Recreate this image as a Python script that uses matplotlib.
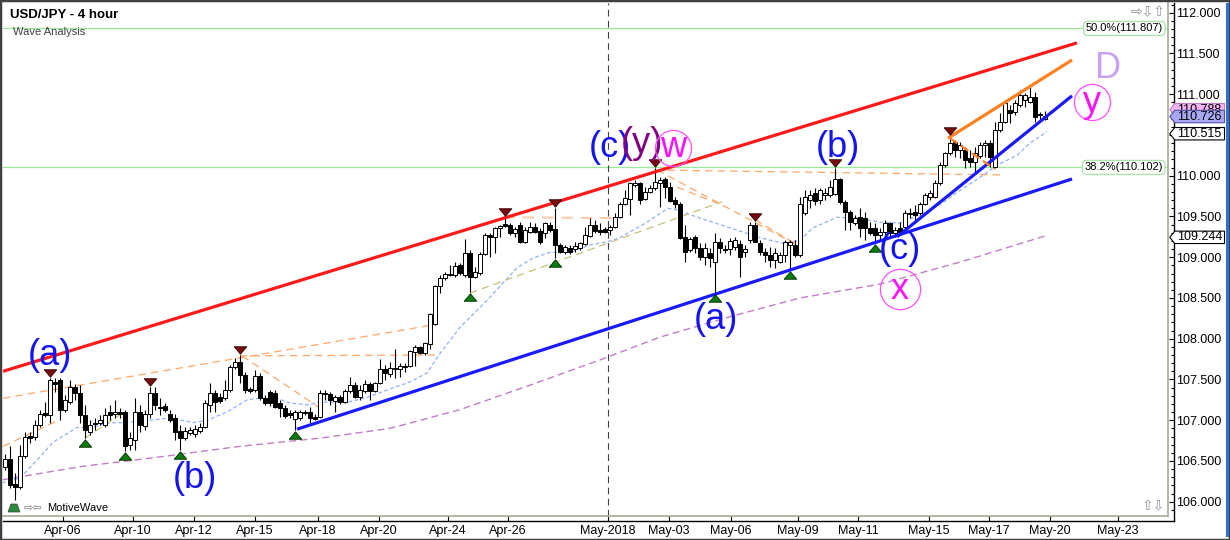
import matplotlib
matplotlib.use("Agg")
import matplotlib.pyplot as plt
import matplotlib.transforms as mtransforms
from matplotlib.patches import Polygon, Rectangle
from matplotlib.lines import Line2D
from matplotlib.path import Path
import numpy as np

plt.rcParams['font.family'] = ['Liberation Sans', 'DejaVu Sans']

# USD/JPY 4 hour candles (one bar per step)
opens = [106.43, 106.52, 106.22, 106.18, 106.56, 106.81, 106.80, 106.94, 107.09, 107.06,
         107.47, 107.49, 107.13, 107.22, 107.41, 107.33, 107.06, 106.86, 106.95, 106.97,
         106.94, 107.10, 107.08, 107.10, 107.10, 106.70, 106.76, 107.10, 106.93, 107.08,
         107.33, 107.16, 107.17, 107.08, 107.03, 106.87, 106.78, 106.84, 106.83, 106.87,
         106.92, 107.19, 107.33, 107.29, 107.27, 107.37, 107.65, 107.71, 107.56, 107.38,
         107.37, 107.54, 107.27, 107.35, 107.33, 107.21, 107.15, 107.09, 107.02, 107.03,
         107.09, 107.10, 107.04, 107.04, 107.32, 107.32, 107.24, 107.29, 107.22, 107.36,
         107.43, 107.29, 107.36, 107.44, 107.36, 107.46, 107.63, 107.57, 107.64, 107.63,
         107.65, 107.66, 107.84, 107.90, 107.82, 107.93, 108.18, 108.65, 108.75, 108.78,
         108.78, 108.91, 108.78, 109.05, 108.76, 108.81, 109.04, 109.27, 109.25, 109.36,
         109.41, 109.40, 109.30, 109.40, 109.19, 109.31, 109.37, 109.32, 109.30, 109.40,
         109.35, 109.15, 109.06, 109.11, 109.10, 109.11, 109.16, 109.26, 109.40, 109.33,
         109.35, 109.33, 109.37, 109.49, 109.65, 109.71, 109.89, 109.91, 109.71, 109.80,
         109.85, 109.91, 109.96, 109.86, 109.70, 109.65, 109.25, 109.09, 109.25, 109.11,
         109.00, 109.05, 108.94, 109.19, 109.10, 109.10, 109.13, 109.16, 109.06, 109.21,
         109.40, 109.17, 109.06, 109.03, 108.97, 108.94, 109.03, 109.15, 109.15, 109.03,
         109.54, 109.70, 109.79, 109.70, 109.76, 109.76, 109.78, 109.96, 109.68, 109.55,
         109.42, 109.49, 109.48, 109.36, 109.36, 109.27, 109.31, 109.42, 109.30, 109.36,
         109.37, 109.53, 109.55, 109.54, 109.65, 109.74, 109.74, 109.91, 110.13, 110.28,
         110.41, 110.32, 110.32, 110.22, 110.17, 110.24, 110.38, 110.40, 110.11, 110.56,
         110.66, 110.81, 110.78, 110.87, 110.93, 110.90, 110.97, 110.76, 110.70]
highs = [106.59, 106.68, 106.35, 106.70, 106.86, 106.86, 107.00, 107.13, 107.22, 107.52,
         107.52, 107.52, 107.31, 107.49, 107.44, 107.43, 107.19, 107.00, 107.03, 107.06,
         107.15, 107.19, 107.25, 107.15, 107.13, 106.86, 107.27, 107.19, 107.13, 107.41,
         107.41, 107.27, 107.21, 107.13, 107.08, 106.94, 106.92, 106.92, 106.94, 106.97,
         107.25, 107.46, 107.37, 107.33, 107.49, 107.68, 107.76, 107.80, 107.59, 107.41,
         107.62, 107.58, 107.31, 107.37, 107.37, 107.25, 107.19, 107.13, 107.13, 107.13,
         107.13, 107.16, 107.08, 107.37, 107.37, 107.35, 107.31, 107.31, 107.38, 107.53,
         107.47, 107.43, 107.49, 107.47, 107.47, 107.75, 107.68, 107.71, 107.87, 107.70,
         107.70, 107.86, 107.92, 107.91, 107.96, 108.32, 108.66, 108.78, 108.82, 108.91,
         108.94, 108.93, 109.22, 109.09, 108.88, 109.06, 109.30, 109.30, 109.37, 109.40,
         109.49, 109.42, 109.37, 109.43, 109.37, 109.43, 109.42, 109.36, 109.43, 109.43,
         109.60, 109.17, 109.15, 109.15, 109.19, 109.19, 109.37, 109.48, 109.46, 109.42,
         109.37, 109.40, 109.54, 109.68, 109.82, 109.92, 109.95, 109.92, 109.86, 109.89,
         110.09, 109.98, 109.99, 109.92, 109.74, 109.68, 109.40, 109.25, 109.27, 109.17,
         109.17, 109.11, 109.30, 109.24, 109.15, 109.24, 109.25, 109.21, 109.15, 109.43,
         109.43, 109.21, 109.11, 109.13, 109.11, 109.06, 109.21, 109.21, 109.21, 109.74,
         109.82, 109.82, 109.85, 109.85, 109.85, 109.95, 110.09, 109.97, 109.70, 109.58,
         109.52, 109.60, 109.55, 109.43, 109.42, 109.36, 109.46, 109.43, 109.37, 109.43,
         109.58, 109.60, 109.64, 109.68, 109.79, 109.82, 109.95, 110.17, 110.29, 110.49,
         110.44, 110.41, 110.35, 110.32, 110.35, 110.41, 110.44, 110.44, 110.66, 110.77,
         110.90, 110.87, 110.93, 111.05, 111.01, 111.09, 111.03, 110.78, 110.79]
lows = [106.39, 106.17, 106.02, 106.16, 106.54, 106.72, 106.76, 106.92, 107.04, 106.97,
        107.35, 107.00, 107.10, 107.20, 107.25, 106.97, 106.78, 106.82, 106.88, 106.94,
        106.92, 107.00, 107.03, 107.03, 106.62, 106.64, 106.64, 106.86, 106.88, 107.03,
        107.13, 107.06, 107.10, 106.98, 106.76, 106.64, 106.76, 106.82, 106.80, 106.84,
        106.91, 107.10, 107.10, 107.21, 107.25, 107.35, 107.63, 107.46, 107.33, 107.33,
        107.35, 107.25, 107.19, 107.17, 107.15, 107.04, 107.03, 107.03, 106.88, 107.00,
        107.06, 106.97, 107.00, 107.03, 107.25, 107.19, 107.10, 107.20, 107.21, 107.33,
        107.27, 107.25, 107.33, 107.25, 107.35, 107.44, 107.49, 107.53, 107.52, 107.53,
        107.59, 107.65, 107.66, 107.81, 107.80, 107.87, 108.17, 108.56, 108.72, 108.77,
        108.76, 108.78, 108.76, 108.57, 108.75, 108.78, 109.03, 109.00, 109.05, 109.25,
        109.37, 109.27, 109.25, 109.17, 109.17, 109.30, 109.30, 109.16, 109.24, 109.31,
        108.99, 109.05, 109.04, 109.04, 109.06, 109.09, 109.15, 109.25, 109.30, 109.27,
        109.30, 109.27, 109.36, 109.48, 109.64, 109.52, 109.86, 109.65, 109.70, 109.79,
        109.82, 109.62, 109.73, 109.68, 109.60, 109.22, 108.94, 109.06, 109.05, 108.97,
        108.91, 108.88, 108.56, 109.05, 109.05, 109.03, 109.09, 108.76, 109.00, 109.17,
        109.19, 109.03, 108.94, 108.88, 108.87, 108.93, 108.94, 108.84, 109.00, 109.00,
        109.52, 109.60, 109.64, 109.65, 109.70, 109.74, 109.76, 109.65, 109.33, 109.33,
        109.40, 109.25, 109.21, 109.27, 109.17, 109.21, 109.27, 109.25, 109.25, 109.27,
        109.33, 109.48, 109.46, 109.52, 109.64, 109.70, 109.73, 109.89, 110.11, 110.25,
        110.23, 110.22, 110.09, 110.11, 110.05, 110.22, 110.23, 110.11, 110.09, 110.54,
        110.65, 110.65, 110.75, 110.84, 110.84, 110.89, 110.66, 110.66, 110.68]
closes = [106.52, 106.21, 106.18, 106.56, 106.80, 106.78, 106.94, 107.08, 107.06, 107.49,
          107.45, 107.13, 107.25, 107.41, 107.33, 107.06, 106.88, 106.94, 106.97, 107.00,
          107.06, 107.06, 107.10, 107.08, 106.68, 106.78, 107.10, 106.94, 107.08, 107.33,
          107.19, 107.15, 107.13, 107.00, 106.86, 106.78, 106.87, 106.88, 106.89, 106.92,
          107.21, 107.33, 107.22, 107.24, 107.37, 107.65, 107.71, 107.56, 107.37, 107.36,
          107.54, 107.27, 107.21, 107.21, 107.16, 107.15, 107.05, 107.06, 107.10, 107.10,
          107.10, 107.03, 107.02, 107.33, 107.33, 107.25, 107.29, 107.22, 107.36, 107.43,
          107.29, 107.37, 107.44, 107.36, 107.46, 107.63, 107.58, 107.64, 107.63, 107.67,
          107.66, 107.85, 107.90, 107.82, 107.95, 108.30, 108.65, 108.75, 108.79, 108.79,
          108.89, 108.81, 109.05, 108.76, 108.82, 109.04, 109.27, 109.25, 109.36, 109.38,
          109.38, 109.30, 109.35, 109.19, 109.33, 109.37, 109.31, 109.19, 109.42, 109.33,
          109.15, 109.06, 109.13, 109.06, 109.14, 109.17, 109.27, 109.40, 109.32, 109.31,
          109.31, 109.37, 109.49, 109.65, 109.73, 109.91, 109.91, 109.70, 109.80, 109.85,
          109.92, 109.95, 109.86, 109.69, 109.65, 109.24, 109.06, 109.22, 109.11, 109.00,
          109.11, 108.99, 109.19, 109.11, 109.09, 109.20, 109.21, 109.00, 109.10, 109.40,
          109.19, 109.06, 109.03, 108.97, 109.05, 109.03, 109.19, 109.19, 109.03, 109.65,
          109.74, 109.76, 109.69, 109.82, 109.79, 109.86, 109.96, 109.68, 109.55, 109.43,
          109.48, 109.36, 109.36, 109.30, 109.27, 109.31, 109.42, 109.30, 109.33, 109.31,
          109.54, 109.54, 109.52, 109.65, 109.76, 109.79, 109.91, 110.13, 110.28, 110.40,
          110.32, 110.38, 110.19, 110.17, 110.28, 110.38, 110.40, 110.23, 110.56, 110.66,
          110.89, 110.77, 110.89, 110.99, 110.99, 110.97, 110.72, 110.75, 110.73]

date_pos = [11.6, 25.6, 37.8, 50, 62.6, 74.8, 88.6, 100.6, 120.6, 132.8, 145.2,
            158.6, 170.6, 184.8, 196.8, 209, 222.6]
date_labels = ['Apr-06', 'Apr-10', 'Apr-12', 'Apr-15', 'Apr-18', 'Apr-20', 'Apr-24',
               'Apr-26', 'May-2018', 'May-03', 'May-06', 'May-09', 'May-11', 'May-15',
               'May-17', 'May-20', 'May-23']

swing_highs = [9, 29, 47, 100, 110, 130, 150, 166, 189]
swing_lows = [16, 24, 35, 58, 93, 110, 142, 157, 174]

# moving averages (bar, price)
ma_fast_x = [-0.6, 3, 6.4, 9.6, 14.4, 17, 21, 23.6, 29, 33, 37.6, 40.4, 44.4, 48.4, 51,
             54.4, 57, 60.4, 63, 68.4, 72.4, 76.4, 81, 84.4, 87, 91, 96.4, 102.4, 105.6,
             109, 113, 117, 120.4, 123, 128.4, 132.6, 134.4, 139, 145, 151, 155.6, 159,
             161.6, 166.4, 170.4, 175, 179, 181.4, 186.4, 191, 195, 198.4, 202.4, 205, 208.4]
ma_fast_y = [106.23, 106.29, 106.51, 106.73, 106.91, 106.91, 106.97, 106.97, 107.00, 107.03,
             106.97, 107.00, 107.10, 107.25, 107.27, 107.27, 107.21, 107.19, 107.22, 107.22,
             107.28, 107.37, 107.47, 107.58, 107.82, 108.14, 108.47, 108.87, 108.99, 109.06,
             109.06, 109.15, 109.19, 109.24, 109.43, 109.60, 109.58, 109.48, 109.36, 109.24,
             109.17, 109.21, 109.36, 109.49, 109.48, 109.43, 109.42, 109.48, 109.62, 109.82,
             109.98, 110.13, 110.25, 110.40, 110.54]
ma_slow_x = [-0.4, 15, 31, 47, 63, 77, 91, 105, 119, 131, 145, 159, 175, 191, 208]
ma_slow_y = [106.27, 106.43, 106.55, 106.68, 106.78, 106.90, 107.13, 107.43, 107.74,
             108.02, 108.27, 108.50, 108.67, 108.94, 109.26]

# wave trend lines (bars, prices)
red_line = ([-0.4, 214.4], [107.60, 111.63])
blue_base = ([58.4, 213.4], [106.89, 109.96])
blue_steep = ([178.4, 213.4], [109.25, 110.98])
orange_top = ([188.6, 213.4], [110.46, 111.42])
orange_side = ([189, 198], [110.46, 110.08])

# thin projection lines
orange_guides = [([-0.4, 86.6], [107.27, 108.18]), ([47, 86.4], [107.79, 107.80]),
                 ([-0.4, 10], [106.68, 106.98]), ([47.4, 63], [107.79, 107.15]),
                 ([130, 199], [110.07, 110.01]), ([130.4, 159.6], [110.07, 109.11]),
                 ([134.4, 143], [109.86, 109.65]), ([150, 159.6], [109.46, 109.11])]
olive_guides = [([16, 23.6], [106.78, 107.09]), ([93, 143.4], [108.56, 109.68])]
peach_guides = [([99.6, 123], [109.49, 109.48])]

fib_levels = [111.807, 110.102]
fib_labels = ['50.0%(111.807)', '38.2%(110.102)']

fig = plt.figure(figsize=(12.3, 5.4), dpi=100)
fig.patch.set_facecolor('white')
ax = fig.add_axes([3 / 1230, 1 - 516 / 540, 1165 / 1230, 513 / 540])
ax.set_xlim(-0.4, 232.6)
ax.set_ylim(105.825, 112.119)
ax.set_facecolor('white')

# candles
x = np.arange(len(opens))
o = np.array(opens); h = np.array(highs); l = np.array(lows); c = np.array(closes)
up = c >= o
ax.vlines(x, l, h, color='black', lw=0.8, zorder=3)
lo = np.minimum(o, c)
hh = np.maximum(np.abs(c - o), 0.008)
ax.bar(x[up], hh[up], bottom=lo[up], width=0.62, facecolor='white', edgecolor='black',
       linewidth=0.7, zorder=3.2)
ax.bar(x[~up], hh[~up], bottom=lo[~up], width=0.62, facecolor='black', edgecolor='black',
       linewidth=0.7, zorder=3.2)

# fib lines
for lev in fib_levels:
    ax.axhline(lev, color='#98ec98', lw=0.9, zorder=1)

# May-2018 divider
ax.axvline(date_pos[8], color='#404040', lw=0.8, ls=(0, (6, 4)), zorder=1)

# moving averages
ax.plot(ma_fast_x, ma_fast_y, color='#8eb0ff', lw=0.9, ls=(0, (3, 2)), zorder=2)
ax.plot(ma_slow_x, ma_slow_y, color='#c27cc8', lw=1.0, ls=(0, (5, 3)), zorder=2)

for gx, gy in orange_guides:
    ax.plot(gx, gy, color='#ffa868', lw=0.9, ls=(0, (6, 4)), zorder=2)
for gx, gy in olive_guides:
    ax.plot(gx, gy, color='#c8bf78', lw=0.9, ls=(0, (6, 4)), zorder=2)
for gx, gy in peach_guides:
    ax.plot(gx, gy, color='#ffc8a8', lw=1.4, ls=(0, (6, 4)), zorder=2)

# trend lines
ax.plot(*red_line, color='#ff1a1a', lw=2.3, zorder=4, solid_capstyle='butt')
ax.plot(*blue_base, color='#1a1aff', lw=2.3, zorder=4, solid_capstyle='butt')
ax.plot(*blue_steep, color='#1a1aff', lw=2.3, zorder=4, solid_capstyle='butt')
ax.plot(*orange_top, color='#ff8020', lw=2.3, zorder=4, solid_capstyle='butt')
ax.plot(*orange_side, color='#ff8020', lw=1.6, ls=(0, (4, 2)), zorder=4)

# swing markers
tri_down = Path([(-1, 0.6), (1, 0.6), (0, -0.6), (-1, 0.6)])
tri_up = Path([(-1, -0.6), (1, -0.6), (0, 0.6), (-1, -0.6)])
off_up = mtransforms.offset_copy(ax.transData, fig=fig, y=5, units='dots')
off_dn = mtransforms.offset_copy(ax.transData, fig=fig, y=-5, units='dots')
ax.plot(swing_highs, h[swing_highs], ls='none', marker=tri_down, ms=9, mfc='#7a0a0a',
        mec='#300000', mew=0.6, transform=off_up, zorder=5)
ax.plot(swing_lows, l[swing_lows], ls='none', marker=tri_up, ms=9, mfc='#0c7a10',
        mec='#003000', mew=0.6, transform=off_dn, zorder=5)

# wave labels
blue = '#1414f0'
mag = '#ff10ff'
fs = 26
ax.text(9, 107.80, '(a)', color=blue, fontsize=fs, ha='center', va='center', zorder=6)
ax.text(38, 106.29, '(b)', color=blue, fontsize=fs, ha='center', va='center', zorder=6)
ax.text(121, 110.34, '(c)', color=blue, fontsize=fs, ha='center', va='center', zorder=6)
ax.text(127.4, 110.40, '(y)', color='#800080', fontsize=fs, ha='center', va='center', zorder=6)
ax.text(166.6, 110.34, '(b)', color=blue, fontsize=fs, ha='center', va='center', zorder=6)
ax.text(142.2, 108.23, '(a)', color=blue, fontsize=fs, ha='center', va='center', zorder=6)
ax.text(179, 109.09, '(c)', color=blue, fontsize=fs, ha='center', va='center', zorder=6)
ax.text(220.6, 111.32, 'D', color='#c9a0f2', fontsize=fs, ha='center', va='center', zorder=6)
for cx, cy, t, ms in [(133.6, 110.34, 'w', 26), (179, 108.61, 'x', 29), (217.4, 110.90, 'y', 26)]:
    ax.plot(cx, cy, 'o', ms=ms, mfc='none', mec='#ff50ff', mew=0.9, zorder=6)
    ax.text(cx, cy, t, color=mag, fontsize=fs, ha='center', va='center', zorder=6)

# axes styling
for s in ['top', 'left', 'right', 'bottom']:
    ax.spines[s].set_visible(False)
ax.spines['right'].set_position(('outward', 4.3))
ax.spines['bottom'].set_position(('outward', 3.6))
ax.yaxis.tick_right()
ax.set_yticks(np.arange(106.0, 112.01, 0.5))
ax.set_yticks(np.arange(105.9, 112.11, 0.1), minor=True)
ax.set_yticklabels(['%.3f' % v for v in np.arange(106.0, 112.01, 0.5)])
ax.tick_params(axis='y', which='major', direction='in', length=3.6, width=0.8, pad=1.5,
               labelsize=9, right=True, left=False)
ax.tick_params(axis='y', which='minor', direction='in', length=2.2, width=0.8, right=True, left=False)
ax.set_xticks(date_pos)
ax.set_xticklabels(date_labels)
ax.tick_params(axis='x', direction='in', length=3.6, width=0.8, pad=3, labelsize=9)

# frame lines
ax.add_line(Line2D([1, 1], [0, 1], transform=ax.transAxes, color='#a8a898', lw=1.2, clip_on=False))
ax.add_line(Line2D([0, 1], [0, 0], transform=ax.transAxes, color='#a8a898', lw=1.2, clip_on=False))
ax.add_line(Line2D([1.00515, 1.00515], [-0.0098, 1], transform=ax.transAxes, color='black',
                   lw=1.0, clip_on=False))
ax.add_line(Line2D([0, 1.00515], [-0.0098, -0.0098], transform=ax.transAxes, color='black',
                   lw=1.0, clip_on=False))

blend = mtransforms.blended_transform_factory(ax.transAxes, ax.transData)
for lev, lab in zip(fib_levels, fib_labels):
    ax.text(0.9957, lev, lab, transform=blend, ha='right', va='center', fontsize=8, zorder=7,
            bbox=dict(boxstyle='round,pad=0.18,rounding_size=0.35', fc='white', ec='#a6e6a6', lw=0.9))


def price_tag(price, text, fc, ec, tc='black', z=8):
    hp = 6.2 * 0.01227
    x0, x1, x2 = 1.0015, 1.0058, 1.0485
    poly = Polygon([(x0, price), (x1, price + hp), (x2, price + hp), (x2, price - hp),
                    (x1, price - hp)], closed=True, transform=blend, clip_on=False,
                   fc=fc, ec=ec, lw=0.8, zorder=z)
    ax.add_patch(poly)
    ax.text(1.0075, price, text, transform=blend, ha='left', va='center', fontsize=9,
            color=tc, zorder=z + 0.5, clip_on=False)


# last high tag, mostly hidden under the current price tag
price_tag(110.81, '110.788', '#f4b4f4', '#c080c0', z=8)
price_tag(110.726, '110.726', '#a8a8f4', '#5050a0', z=9)
price_tag(110.515, '110.515', 'white', 'black', z=8)
price_tag(109.244, '109.244', 'white', 'black', z=8)

# header and footer texts
fig.text(10 / 1230, 1 - 15 / 540, 'USD/JPY - 4 hour', fontsize=9.5, fontweight='bold',
         va='center', ha='left')
fig.text(13 / 1230, 1 - 32 / 540, 'Wave Analysis', fontsize=8, color='#404040',
         va='center', ha='left')
fig.text(24 / 1230, 1 - 508 / 540, '\u21e8\u21e6', fontsize=8, color='#808080',
         va='center', ha='left', family='DejaVu Sans')
fig.text(47 / 1230, 1 - 508 / 540, 'MotiveWave', fontsize=8, va='center', ha='left')
fig.add_artist(Polygon([(8 / 1230, 1 - 512 / 540), (20 / 1230, 1 - 512 / 540),
                        (17 / 1230, 1 - 504 / 540), (11 / 1230, 1 - 504 / 540)],
                       closed=True, transform=fig.transFigure, fc='#2e8b3e', ec='#404040', lw=0.5))
fig.text(1165 / 1230, 1 - 12 / 540, '\u21e8\u21e9\u21e7', fontsize=10, color='#909090',
         va='center', ha='right', family='DejaVu Sans')
fig.text(1165 / 1230, 1 - 506 / 540, '\u21e7\u21e9', fontsize=10, color='#909090',
         va='center', ha='right', family='DejaVu Sans')

# window border
fig.add_artist(Rectangle((0, 0), 1, 1, transform=fig.transFigure, fill=False,
                         ec='#404040', lw=2.5))
fig.add_artist(Rectangle((1225.5 / 1230, 3 / 540), 3.5 / 1230, 534 / 540,
                         transform=fig.transFigure, fc='#2f6fd6', ec='none'))

fig.savefig('out.png', dpi=100)
